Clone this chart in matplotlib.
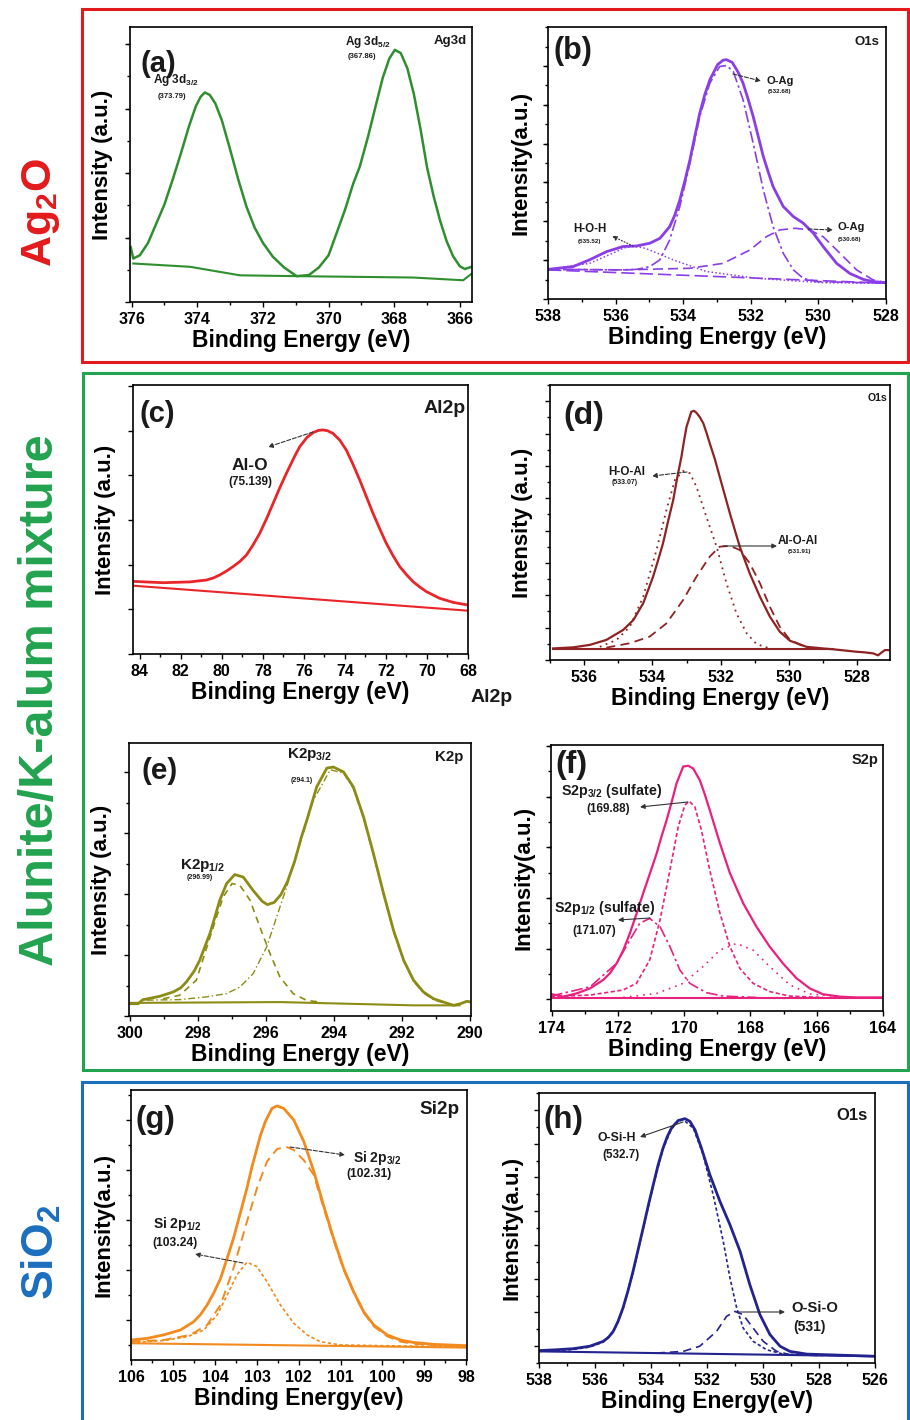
import matplotlib.pyplot as plt
from matplotlib.ticker import MultipleLocator, NullFormatter
from matplotlib.patches import Rectangle, FancyArrowPatch

W, H = 910, 1420

plt.rcParams['font.family'] = ['Liberation Sans', 'DejaVu Sans']
plt.rcParams['font.weight'] = 'bold'
plt.rcParams['axes.labelweight'] = 'bold'
plt.rcParams['axes.formatter.useoffset'] = False
plt.rcParams['mathtext.fontset'] = 'custom'
plt.rcParams['mathtext.rm'] = 'Liberation Sans:bold'
plt.rcParams['mathtext.bf'] = 'Liberation Sans:bold'
plt.rcParams['mathtext.default'] = 'rm'

# intensities are read as % of the plot height (arbitrary units)

# (a) Ag3d
a_env_x = [376.03, 375.95, 375.75, 375.5, 375.25, 375.0, 374.75, 374.5, 374.25, 374.05, 373.9,
           373.77, 373.62, 373.45, 373.25, 373.0, 372.75, 372.5, 372.25, 372.0, 371.7, 371.35,
           370.97, 370.6, 370.3, 370.0, 369.76, 369.5, 369.25, 369.05, 368.8, 368.55, 368.35,
           368.15, 367.98, 367.8, 367.6, 367.4, 367.2, 367.0, 366.8, 366.6, 366.4, 366.2, 366.0,
           365.85, 365.64]
a_env_y = [20.0, 15.8, 17.0, 21.5, 28.5, 35.5, 44.5, 54.0, 64.0, 71.0, 74.6,
           76.2, 75.3, 72.2, 66.0, 55.5, 44.5, 34.6, 27.0, 21.5, 16.5, 12.5,
           9.4, 9.8, 12.5, 17.0, 24.9, 33.5, 43.0, 49.2, 60.0, 72.0, 81.5,
           88.5, 91.7, 90.5, 85.0, 75.5, 63.0, 49.0, 38.5, 29.5, 22.0, 16.5, 13.0,
           12.0, 12.8]
a_base_x = [375.95, 374.22, 372.7, 370.97, 367.42, 365.9, 365.64]
a_base_y = [14.0, 12.8, 9.7, 9.4, 8.9, 7.9, 10.3]

# (b) O1s of Ag2O
b_env_x = [538.0, 537.26, 536.77, 536.27, 535.78, 535.38, 534.99, 534.69, 534.40, 534.25, 534.10,
           533.95, 533.80, 533.65, 533.51, 533.36, 533.21, 532.98, 532.82, 532.72, 532.55, 532.38,
           532.23, 532.08, 531.93, 531.78, 531.63, 531.48, 531.34, 531.04, 530.74, 530.45, 530.15,
           529.86, 529.46, 529.07, 528.67, 528.38, 528.0]
b_env_y = [10.9, 11.9, 14.4, 17.4, 19.3, 19.5, 20.5, 22.3, 26.6, 30.8, 36.4,
           43.5, 51.2, 60.2, 68.3, 75.2, 80.6, 86.2, 87.8, 88.0, 87.0, 83.5,
           79.4, 73.5, 67.1, 59.8, 52.4, 46.5, 41.3, 34.0, 30.3, 27.9, 24.2,
           19.3, 13.1, 9.4, 7.2, 6.4, 6.0]
b_oag1_x = [538.0, 536.8, 535.78, 535.38, 534.99, 534.69, 534.40, 534.10, 533.80, 533.51, 533.21,
            532.92, 532.72, 532.52, 532.23, 531.93, 531.63, 531.34, 531.04, 530.74, 530.45,
            530.05, 528.0]
b_oag1_y = [10.9, 10.8, 10.7, 10.9, 11.9, 14.4, 21.7, 34.0, 49.9, 67.1, 79.4,
            85.5, 85.8, 83.7, 73.3, 57.3, 40.1, 26.6, 16.8, 10.7, 7.6,
            6.4, 5.8]
b_hoh_x = [538.0, 536.77, 535.98, 535.75, 535.48, 535.2, 534.99, 534.30, 533.31, 531.83, 529.86, 528.0]
b_hoh_y = [10.9, 13.1, 17.4, 18.8, 19.3, 18.9, 18.0, 14.4, 10.1, 7.6, 6.0, 5.8]
b_oag2_x = [538.0, 535.78, 533.80, 532.82, 532.03, 531.54, 531.14, 530.68, 530.26, 529.86, 529.36,
            528.87, 528.38, 528.0]
b_oag2_y = [10.9, 10.7, 11.3, 13.1, 18.0, 22.9, 25.4, 26.0, 25.4, 22.9, 16.8,
            10.7, 7.0, 6.0]
b_base_x = [538.0, 528.0]
b_base_y = [10.7, 5.8]

# (c) Al2p
c_env_x = [84.33, 82.86, 81.56, 80.75, 80.4, 80.10, 79.78, 79.45, 79.12, 78.80, 78.48, 78.15,
           77.82, 77.50, 77.18, 76.85, 76.45, 76.20, 75.85, 75.55, 75.30, 75.07, 74.85, 74.58,
           74.25, 73.93, 73.6, 73.28, 72.95, 72.63, 72.3, 71.98, 71.65, 71.33, 71.0, 70.68,
           70.35, 70.03, 69.38, 68.73, 68.0]
c_env_y = [27.0, 26.5, 26.8, 27.5, 28.3, 29.4, 30.8, 32.5, 34.4, 36.8, 40.5, 44.9,
           50.3, 56.0, 61.7, 67.2, 73.5, 77.1, 80.5, 82.3, 83.1, 83.3, 83.0, 82.0,
           79.5, 75.8, 70.4, 64.7, 58.4, 52.3, 46.5, 41.1, 36.5, 32.5, 29.5, 26.9,
           24.9, 23.2, 20.7, 19.2, 18.2]
c_base_x = [84.33, 68.0]
c_base_y = [25.4, 16.1]

# (d) O1s of alunite
d_env_x = [536.91, 536.32, 535.83, 535.35, 534.86, 534.56, 534.27, 533.98, 533.84, 533.69, 533.54,
           533.39, 533.27, 533.15, 533.07, 533.00, 532.86, 532.78, 532.71, 532.61, 532.51, 532.42,
           532.32, 532.17, 532.03, 531.88, 531.73, 531.58, 531.44, 531.15, 530.85, 530.56, 530.27,
           529.97, 529.49, 529.0, 528.71, 528.4, 528.02, 527.8, 527.53, 527.39, 527.3, 527.19, 527.04]
d_env_y = [4.2, 4.6, 5.5, 7.3, 10.9, 14.5, 20.6, 30.3, 36.0, 42.4, 50.5,
           58.2, 66.5, 73.9, 80.0, 84.8, 90.3, 90.6, 89.9, 88.3, 86.1, 82.8,
           78.8, 73.0, 66.7, 60.0, 53.3, 47.0, 41.2, 31.5, 23.0, 15.8, 10.3,
           7.0, 4.8, 4.2, 3.9, 3.5, 3.0, 2.8, 2.4, 1.7, 2.6, 3.6, 3.6]
d_hoal_x = [535.54, 535.05, 534.66, 534.27, 533.88, 533.59, 533.34, 533.10, 532.90, 532.71, 532.42,
            532.12, 531.83, 531.54, 531.24, 530.95, 530.56]
d_hoal_y = [4.8, 7.3, 12.1, 23.0, 40.0, 54.5, 65.5, 68.7, 67.9, 63.0, 52.1,
            41.2, 27.9, 17.0, 9.7, 5.8, 4.2]
d_aloal_x = [535.35, 534.66, 534.08, 533.59, 533.10, 532.71, 532.32, 532.03, 531.73, 531.44, 531.15,
             530.85, 530.56, 530.27, 529.97, 529.49, 529.0]
d_aloal_y = [4.5, 6.1, 8.5, 13.3, 21.8, 30.3, 37.6, 41.2, 41.5, 40.0, 35.2,
             27.9, 19.4, 12.1, 7.3, 4.5, 3.9]
d_base_x = [536.91, 528.71]
d_base_y = [3.9, 3.9]

# (e) K2p
e_env_x = [300.02, 299.75, 299.61, 299.51, 299.12, 298.72, 298.5, 298.33, 298.1, 297.94, 297.8,
           297.64, 297.5, 297.35, 297.15, 296.91, 296.66, 296.37, 296.1, 295.95, 295.75, 295.55,
           295.35, 295.15, 294.95, 294.79, 294.50, 294.20, 294.01, 293.71, 293.42, 293.12, 292.83,
           292.53, 292.24, 291.94, 291.65, 291.36, 291.06, 290.77, 290.47, 290.27, 290.08, 289.96]
e_env_y = [4.5, 4.5, 6.0, 6.2, 7.2, 8.8, 10.3, 12.5, 16.5, 20.4, 25.0,
           30.2, 36.0, 42.4, 48.5, 51.8, 50.9, 46.0, 42.0, 40.8, 41.6, 44.5,
           49.5, 56.5, 65.5, 71.7, 83.9, 90.8, 91.2, 89.4, 83.9, 72.9, 59.5,
           44.8, 31.4, 20.4, 13.1, 8.8, 6.3, 5.1, 3.9, 4.5, 5.4, 5.1]
e_k12_x = [299.02, 298.53, 298.04, 297.54, 297.25, 296.99, 296.76, 296.46, 296.17, 295.87, 295.58,
           295.19, 294.79, 294.40]
e_k12_y = [6.3, 7.6, 13.1, 32.6, 43.6, 48.5, 47.9, 42.4, 32.6, 22.8, 14.3,
           8.2, 5.7, 5.1]
e_k32_x = [299.5, 298.53, 297.74, 297.15, 296.76, 296.37, 295.97, 295.58, 295.38, 295.19, 294.99,
           294.6, 294.10, 293.71, 293.42, 293.12, 292.83, 292.53, 292.24, 291.94, 291.65, 291.36,
           291.06, 290.77]
e_k32_y = [5.8, 6.0, 7.0, 8.2, 10.6, 15.5, 25.3, 39.9, 47.3, 55.8, 63.1,
           79.0, 90.2, 89.0, 83.3, 72.3, 58.9, 44.2, 30.8, 20.0, 12.7, 8.4,
           6.0, 4.8]
e_base_x = [300.0, 295.58, 291.65, 290.3]
e_base_y = [4.8, 5.1, 3.9, 3.9]

# (f) S2p
f_env_x = [174.02, 173.65, 173.25, 172.84, 172.44, 172.24, 172.04, 171.84, 171.64, 171.44, 171.24,
           171.04, 170.83, 170.68, 170.53, 170.38, 170.23, 170.03, 169.88, 169.73, 169.53, 169.38,
           169.23, 168.92, 168.62, 168.22, 167.82, 167.42, 167.02, 166.61, 166.21, 165.81, 165.31,
           164.80, 164.0]
f_env_y = [6.4, 5.4, 6.6, 8.5, 11.7, 14.2, 17.9, 22.8, 29.2, 36.5, 44.2,
           51.5, 59.3, 65.8, 71.8, 78.5, 85.6, 91.9, 92.2, 91.2, 86.8, 81.5,
           75.6, 63.0, 51.8, 40.5, 31.7, 24.2, 17.9, 12.3, 8.5, 6.3, 5.4,
           5.1, 5.1]
f_s32_x = [174.02, 172.84, 171.84, 171.44, 171.04, 170.73, 170.43, 170.18, 169.98, 169.85, 169.68,
           169.48, 169.23, 168.92, 168.62, 168.32, 167.92, 167.42, 166.81, 165.81]
f_s32_y = [5.4, 6.0, 7.9, 10.4, 19.2, 34.2, 53.0, 69.3, 77.4, 78.9, 76.8,
           68.0, 53.0, 36.7, 24.2, 16.0, 10.4, 7.3, 5.6, 5.1]
f_s12_x = [174.02, 172.84, 172.04, 171.64, 171.34, 171.04, 170.73, 170.43, 170.13, 169.83, 169.33,
           168.82, 167.82]
f_s12_y = [5.6, 9.1, 17.9, 26.7, 33.0, 34.8, 31.7, 24.2, 15.4, 10.4, 6.9,
           5.6, 5.1]
f_s3_x = [171.84, 170.83, 170.03, 169.43, 168.92, 168.42, 167.92, 167.42, 166.81, 166.21, 165.31]
f_s3_y = [5.1, 6.6, 10.4, 16.7, 22.9, 25.4, 22.9, 16.7, 9.8, 6.4, 5.4]
f_base_x = [174.0, 164.0]
f_base_y = [4.8, 4.8]

# (g) Si2p
g_env_x = [106.01, 105.63, 105.23, 104.83, 104.51, 104.35, 104.19, 104.03, 103.87, 103.72, 103.56,
           103.40, 103.24, 103.12, 103.0, 102.92, 102.80, 102.64, 102.52, 102.36, 102.12, 101.88,
           101.64, 101.41, 101.17, 100.93, 100.69, 100.45, 100.21, 99.89, 99.57, 99.26, 98.78, 98.0]
g_env_y = [7.4, 8.0, 9.3, 11.1, 14.2, 16.8, 20.4, 24.9, 30.2, 37.3, 45.1,
           54.3, 63.6, 71.5, 78.4, 83.0, 88.3, 93.2, 94.1, 93.2, 88.9, 80.9,
           69.8, 57.4, 45.1, 34.0, 25.3, 17.9, 13.0, 9.3, 7.4, 6.5, 5.8, 5.3]
g_si32_x = [106.01, 105.23, 104.59, 104.19, 103.87, 103.56, 103.24, 103.0, 102.76, 102.52, 102.31,
            102.12, 101.88, 101.64, 101.41, 101.17, 100.93, 100.69, 100.45, 100.21, 99.89, 99.57,
            99.26, 98.0]
g_si32_y = [6.8, 7.4, 9.3, 13.0, 20.4, 34.0, 51.2, 63.6, 73.5, 78.1, 79.0,
            77.8, 74.0, 68.5, 56.5, 44.5, 33.5, 25.0, 17.5, 12.5, 8.8, 6.8,
            6.0, 4.9]
g_si12_x = [106.01, 105.23, 104.67, 104.27, 103.95, 103.71, 103.48, 103.24, 103.0, 102.76, 102.44,
            102.12, 101.80, 101.49, 101.01, 100.05, 97.98]
g_si12_y = [6.5, 7.2, 8.6, 11.1, 16.7, 24.1, 31.5, 36.2, 34.6, 29.0, 20.4,
            13.6, 9.3, 6.8, 5.6, 5.3, 4.9]
g_base_x = [106.0, 98.0]
g_base_y = [6.2, 4.6]

# (h) O1s of SiO2
h_env_x = [538.0, 537.38, 536.78, 536.19, 535.71, 535.52, 535.35, 535.18, 535.0, 534.82, 534.64,
           534.46, 534.28, 534.1, 533.92, 533.75, 533.57, 533.42, 533.27, 533.03, 532.79, 532.61,
           532.43, 532.20, 531.90, 531.54, 531.18, 530.82, 530.47, 530.11, 529.75, 529.39, 529.04,
           528.44, 527.85, 526.0]
h_env_y = [4.6, 4.9, 5.3, 6.2, 8.0, 9.5, 11.7, 15.3, 20.4, 26.8, 34.0,
           42.0, 50.0, 58.2, 66.0, 73.2, 79.6, 83.8, 87.0, 89.8, 90.5, 89.5,
           86.4, 79.6, 69.8, 59.9, 51.2, 41.4, 29.0, 17.9, 10.5, 6.2, 4.3,
           3.3, 3.1, 2.5]
h_osih_x = [538.0, 537.38, 536.78, 536.19, 535.71, 535.35, 535.0, 534.64, 534.28, 533.92, 533.57,
            533.27, 533.03, 532.85, 532.49, 532.14, 531.78, 531.42, 531.18, 530.94, 530.71, 530.35,
            529.87, 529.28, 527.85]
h_osih_y = [4.3, 4.6, 5.0, 5.9, 7.7, 11.4, 20.1, 33.7, 49.7, 65.7, 79.3,
            86.7, 89.5, 90.1, 87.0, 77.2, 62.3, 45.1, 31.5, 20.4, 13.0, 8.0,
            4.9, 3.3, 2.8]
h_osio_x = [533.80, 532.85, 532.26, 531.66, 531.30, 531.0, 530.71, 530.35, 529.99, 529.51, 529.04, 527.85]
h_osio_y = [3.7, 4.3, 6.2, 11.7, 17.3, 19.1, 17.9, 12.9, 8.0, 4.3, 3.1, 2.7]
h_base_x = [538.0, 526.0]
h_base_y = [4.3, 2.5]

fig = plt.figure(figsize=(9.1, 14.2), dpi=100)


def fp(x, y):
    return x / W, 1 - y / H


def panel(box, xlim, xmaj, xmin, yt, xlabel, ylabel):
    l, t, r, b = box
    ax = fig.add_axes([l / W, 1 - b / H, (r - l) / W, (b - t) / H])
    ax.set_xlim(xlim)
    ax.set_ylim(0, 100)
    ax.xaxis.set_major_locator(MultipleLocator(xmaj))
    ax.xaxis.set_minor_locator(MultipleLocator(xmin))
    ax.yaxis.set_major_locator(MultipleLocator(yt[0], offset=yt[1]))
    if yt[2]:
        ax.yaxis.set_minor_locator(MultipleLocator(yt[2], offset=yt[3]))
    ax.yaxis.set_major_formatter(NullFormatter())
    ax.tick_params(which='both', direction='out', top=False, right=False, width=1.0)
    ax.tick_params(which='major', length=3.5)
    ax.tick_params(which='minor', length=2)
    ax.tick_params(axis='x', labelsize=11.5, pad=4)
    for s in ax.spines.values():
        s.set_linewidth(1.2)
    ax.set_xlabel(xlabel, fontsize=16.5, labelpad=1)
    ax.set_ylabel(ylabel, fontsize=16, labelpad=5)
    return ax


def txt(items):
    for s, x, y, size in items:
        fig.text(*fp(x, y), s, fontsize=size, ha='center', va='center', color='#1a1a1a')


def arrows(items):
    for tail, head, ls in items:
        fig.add_artist(FancyArrowPatch(fp(*tail), fp(*head), transform=fig.transFigure,
                                       arrowstyle='-|>', mutation_scale=7, lw=0.8,
                                       color='#333333', linestyle=ls, shrinkA=0, shrinkB=0))


# ---- (a)
ax = panel((130, 27, 472, 302), (376.05, 365.63), 2, 1, (23.45, 0, 11.72, 0),
           'Binding Energy (eV)', 'Intensity (a.u.)')
ax.plot(a_env_x, a_env_y, color='#2f8f2f', lw=1.8)
ax.plot(a_base_x, a_base_y, color='#2f8f2f', lw=1.5)
txt([('(a)', 158, 64, 21), ('Ag 3d$_{3/2}$', 176, 80, 8.5), ('(373.79)', 172, 96, 5.5),
     ('Ag 3d$_{5/2}$', 368, 42, 8.5), ('(367.86)', 362, 57, 5.5), ('Ag3d', 450, 41, 9.5)])

# ---- (b)
c = '#8a3ee6'
ax = panel((548, 27, 886, 299), (538, 528), 2, 1, (14.29, 0, 7.14, 0),
           'Binding Energy (eV)', 'Intensity(a.u.)')
ax.plot(b_base_x, b_base_y, color=c, lw=1.2, ls=(0, (8, 3)))
ax.plot(b_hoh_x, b_hoh_y, color=c, lw=1.1, ls=(0, (1, 1.5)))
ax.plot(b_oag2_x, b_oag2_y, color=c, lw=1.2, ls=(0, (6, 3)))
ax.plot(b_oag1_x, b_oag1_y, color=c, lw=1.2, ls=(0, (7, 2, 1.5, 2)))
ax.plot(b_env_x, b_env_y, color=c, lw=2.0)
txt([('(b)', 573, 51, 22), ('O1s', 867, 42, 9.5), ('O-Ag', 780, 81, 8), ('(532.68)', 780, 92, 4.5),
     ('H-O-H', 590, 229, 8.3), ('(535.52)', 589, 242, 4.5), ('O-Ag', 851, 227, 8),
     ('(530.68)', 850, 239, 4.5)])
arrows([((633, 246), (612, 236), ':'), ((733, 74), (761, 81), '--'), ((808, 229), (833, 230), '--')])

# ---- (c)
c = '#e8262a'
ax = panel((133, 385, 468, 654), (84.33, 68.0), 2, 1, (16.6, 0, None, 0),
           'Binding Energy (eV)', 'Intensity (a.u.)')
ax.plot(c_base_x, c_base_y, color=c, lw=1.5)
ax.plot(c_env_x, c_env_y, color=c, lw=2.0)
txt([('(c)', 157, 414, 21), ('Al2p', 445, 409, 14), ('Al-O', 250, 465, 12.5),
     ('(75.139)', 250, 482, 8.5), ('Al2p', 492, 697, 14)])
arrows([((313, 432), (268, 447), '--')])

# ---- (d)
c = '#8f2222'
ax = panel((550, 385, 890, 660), (537.0, 527.04), 2, 1, (11.76, 0, 5.88, 0),
           'Binding Energy (eV)', 'Intensity (a.u.)')
ax.plot(d_base_x, d_base_y, color=c, lw=1.5)
ax.plot(d_hoal_x, d_hoal_y, color=c, lw=1.3, ls=(0, (1, 2.5)))
ax.plot(d_aloal_x, d_aloal_y, color=c, lw=1.3, ls=(0, (5, 3)))
ax.plot(d_env_x, d_env_y, color=c, lw=1.6)
txt([('(d)', 584, 416, 23), ('O1s', 878, 398, 7.6), ('H-O-Al', 627, 472, 8.4),
     ('(533.07)', 625, 482, 5), ('Al-O-Al', 798, 541, 8.4), ('(531.91)', 799, 552, 4.5)])
arrows([((687, 472), (652, 476), '--'), ((723, 546), (777, 546), '-')])

# ---- (e)
c = '#8c8c14'
ax = panel((129, 743, 471, 1016), (300.02, 289.96), 2, 1, (22.3, 0, 11.15, 0),
           'Binding Energy (eV)', 'Intensity (a.u.)')
ax.plot(e_base_x, e_base_y, color=c, lw=1.5)
ax.plot(e_k12_x, e_k12_y, color=c, lw=1.2, ls=(0, (4, 3)))
ax.plot(e_k32_x, e_k32_y, color=c, lw=1.0, ls=(0, (5, 2, 1, 2)))
ax.plot(e_env_x, e_env_y, color=c, lw=2.0)
txt([('(e)', 160, 771, 21.5), ('K2p', 449, 757, 10.8), ('K2p$_{3/2}$', 310, 755, 11),
     ('(294.1)', 302, 780, 5), ('K2p$_{1/2}$', 203, 865, 11), ('(296.99)', 200, 878, 5)])

# ---- (f)
c = '#e8207e'
ax = panel((551, 745, 883, 1011), (174.02, 164.0), 2, 1, (19.05, 4.4, 9.52, 4.4),
           'Binding Energy (eV)', 'Intensity(a.u.)')
ax.plot(f_base_x, f_base_y, color=c, lw=1.5)
ax.plot(f_s3_x, f_s3_y, color=c, lw=1.2, ls=(0, (1, 3)))
ax.plot(f_s12_x, f_s12_y, color=c, lw=1.2, ls=(0, (7, 2, 1.5, 2)))
ax.plot(f_s32_x, f_s32_y, color=c, lw=1.2, ls=(0, (2.5, 1.5)))
ax.plot(f_env_x, f_env_y, color=c, lw=1.6)
txt([('(f)', 571, 765, 23), ('S2p', 865, 760, 10.5), ('S2p$_{3/2}$ (sulfate)', 612, 791, 10.3),
     ('(169.88)', 608, 809, 8.4), ('S2p$_{1/2}$ (sulfate)', 605, 908, 10.3),
     ('(171.07)', 594, 931, 8.4)])
arrows([((688, 802), (640, 807), '-'), ((650, 918), (618, 920), '-')])

# ---- (g)
c = '#f28a1e'
ax = panel((131, 1090, 467, 1360), (106.01, 97.98), 1, 0.5, (18.5, 14.8, 9.25, 5.55),
           'Binding Energy(ev)', 'Intensity(a.u.)')
ax.plot(g_base_x, g_base_y, color=c, lw=1.5)
ax.plot(g_si12_x, g_si12_y, color=c, lw=1.2, ls=(0, (2, 1.5)))
ax.plot(g_si32_x, g_si32_y, color=c, lw=1.4, ls=(0, (5, 3)))
ax.plot(g_env_x, g_env_y, color=c, lw=2.0)
txt([('(g)', 155, 1120, 22.5), ('Si2p', 440, 1110, 13.6), ('Si 2p$_{3/2}$', 377, 1158, 10),
     ('(102.31)', 369, 1174, 8.7), ('Si 2p$_{1/2}$', 177, 1224, 10), ('(103.24)', 175, 1243, 8.7)])
arrows([((290, 1147), (345, 1155), '--'), ((243, 1263), (195, 1254), '--')])

# ---- (h)
c = '#23238f'
ax = panel((539, 1093, 875, 1363), (538, 526), 2, 1, (12.5, 6.25, 6.25, 0),
           'Binding Energy(eV)', 'Intensity(a.u.)')
ax.plot(h_base_x, h_base_y, color=c, lw=1.5)
ax.plot(h_osio_x, h_osio_y, color=c, lw=1.2, ls=(0, (5, 3)))
ax.plot(h_osih_x, h_osih_y, color=c, lw=1.2, ls=(0, (2, 1.5)))
ax.plot(h_env_x, h_env_y, color=c, lw=2.0)
txt([('(h)', 563, 1120, 22.5), ('O1s', 852, 1116, 12), ('O-Si-H', 617, 1138, 8.8),
     ('(532.7)', 621, 1155, 8.4), ('O-Si-O', 815, 1308, 10.6), ('(531)', 810, 1327, 10)])
arrows([((683, 1122), (640, 1137), '-'), ((738, 1312), (785, 1312), '-')])

# group frames and labels
for (l, t, r, b), col in [((82, 9, 908, 362), '#e31a1c'), ((83, 373, 908, 1070), '#22a34f'),
                          ((82, 1082, 908, 1440), '#1c6fbe')]:
    fig.add_artist(Rectangle(fp(l, b), (r - l) / W, (b - t) / H, transform=fig.transFigure,
                             fill=False, ec=col, lw=2.2, clip_on=False))

for s, y, col, size in [('Ag$_2$O', 212, '#e31a1c', 31), ('Alunite/K-alum mixture', 700, '#22a34f', 35),
                        ('SiO$_2$', 1252, '#1c6fbe', 32)]:
    fig.text(*fp(41, y), s, rotation=90, ha='center', va='center', color=col, fontsize=size)

fig.savefig('out.png', dpi=100)
